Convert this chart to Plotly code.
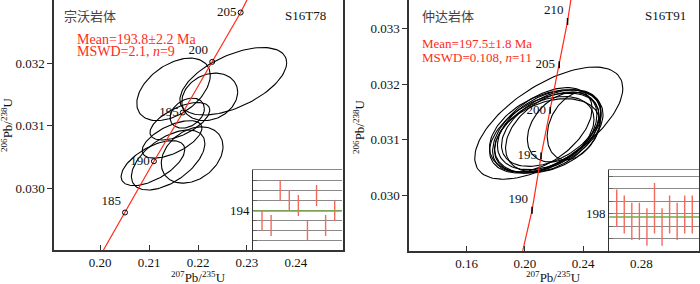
import numpy as np
import plotly.graph_objects as go

# ---------------- data: left panel (S16T78, 宗沃岩体) ----------------
L_ell_x   = [0.2150, 0.2272, 0.2224, 0.2178, 0.2163, 0.2147, 0.2108, 0.2139, 0.2188]
L_ell_sx  = [0.0075, 0.0109, 0.0057, 0.0035, 0.0061, 0.0061, 0.0065, 0.0075, 0.0063]
L_ell_y   = [0.03158, 0.03171, 0.03146, 0.03120, 0.03107, 0.03078, 0.03040, 0.03045, 0.03053]
L_ell_sy  = [0.00050, 0.00054, 0.00038, 0.00024, 0.00030, 0.00030, 0.00036, 0.00048, 0.00045]
L_ell_rho = [0.45, 0.55, 0.2, 0.3, 0.6, 0.6, 0.6, 0.55, 0.3]

L_conc_age = [None, 185, 190, 195, 200, 205, None]
L_conc_x   = [0.2007, 0.2051, 0.2110, 0.2169, 0.2229, 0.2287, 0.2300]
L_conc_y   = [0.02901, 0.02961, 0.03043, 0.03121, 0.03202, 0.03281, 0.03301]

L_ages     = [191.93, 190.9, 197.93, 195.9, 194.9, 189.87, 196.9, 190.9, 193.83]
L_age_err  = [2.07, 2.1, 2.07, 2.1, 2.1, 2.0, 2.1, 2.1, 2.03]
L_mean     = 193.8

# ---------------- data: right panel (S16T91, 仲达岩体) ----------------
R_ell_x   = [0.2164, 0.2147, 0.2133, 0.2167, 0.2133, 0.2181, 0.2154, 0.2188, 0.2120, 0.2256, 0.2338]
R_ell_sx  = [0.0509, 0.0390, 0.0376, 0.0356, 0.0342, 0.0342, 0.0362, 0.0321, 0.0342, 0.0239, 0.0185]
R_ell_y   = [0.03130, 0.03116, 0.03112, 0.03118, 0.03109, 0.03121, 0.03107, 0.03114, 0.03118, 0.03123, 0.03125]
R_ell_sy  = [0.00101, 0.00074, 0.00072, 0.00072, 0.00069, 0.00069, 0.00067, 0.00072, 0.00076, 0.00063, 0.00061]
R_ell_rho = [0.62, 0.4, 0.45, 0.4, 0.4, 0.45, 0.35, 0.4, 0.5, 0.35, 0.3]

R_conc_age = [None, 190, 195, 200, 205, 210, None]
R_conc_x   = [0.1985, 0.2049, 0.2111, 0.2174, 0.2236, 0.2293, 0.2316]
R_conc_y   = [0.02900, 0.02973, 0.03071, 0.03153, 0.03235, 0.03313, 0.03352]

R_ages     = [198.9, 197.9, 196.8, 196.8, 195.9, 198.9, 195.9, 197.9, 196.8, 197.9, 197.9]
R_age_err  = [3.0, 3.05, 3.0, 3.0, 3.0, 4.05, 3.0, 3.05, 3.0, 3.05, 3.05]
R_mean     = 197.5

# ---------------- helpers ----------------
SERIF = "Liberation Serif"
CJK = "Noto Sans CJK SC"
RED = "#ff2a1a"
BAR = "#f36a5c"
GREEN = "#7aa84a"
AX = "#333333"


def ellipse_path(xs, sxs, ys, sys_, rhos, n=120):
    t = np.linspace(0, 2 * np.pi, n)
    X, Y = [], []
    for x, sx, y, sy, r in zip(xs, sxs, ys, sys_, rhos):
        X += list(x + sx * np.cos(t)) + [None]
        Y += list(y + sy * (r * np.cos(t) + np.sqrt(1 - r * r) * np.sin(t))) + [None]
    return X, Y


fig = go.Figure()

for (xs, sxs, ys, sys_, rhos, xa, ya) in [
    (L_ell_x, L_ell_sx, L_ell_y, L_ell_sy, L_ell_rho, "x", "y"),
    (R_ell_x, R_ell_sx, R_ell_y, R_ell_sy, R_ell_rho, "x2", "y2"),
]:
    X, Y = ellipse_path(xs, sxs, ys, sys_, rhos)
    fig.add_trace(go.Scatter(x=X, y=Y, mode="lines", line=dict(color="black", width=1.1),
                             xaxis=xa, yaxis=ya, hoverinfo="skip", showlegend=False))

fig.add_trace(go.Scatter(x=L_conc_x, y=L_conc_y, mode="lines", line=dict(color=RED, width=1.2),
                         xaxis="x", yaxis="y", showlegend=False))
fig.add_trace(go.Scatter(x=R_conc_x, y=R_conc_y, mode="lines", line=dict(color=RED, width=1.2),
                         xaxis="x2", yaxis="y2", showlegend=False))

Lpos = {185: "top left", 190: "middle left", 195: "middle left", 200: "top left", 205: "middle left"}
Rpos = {190: "top left", 195: "middle left", 200: "middle left", 205: "middle left", 210: "top left"}
for ages, xs, ys, xa, ya, sym, pos in [
    (L_conc_age, L_conc_x, L_conc_y, "x", "y", "circle-open", Lpos),
    (R_conc_age, R_conc_x, R_conc_y, "x2", "y2", "line-ns", Rpos),
]:
    mx = [x for a, x in zip(ages, xs) if a is not None]
    my = [y for a, y in zip(ages, ys) if a is not None]
    ma = [a for a in ages if a is not None]
    fig.add_trace(go.Scatter(x=mx, y=my, mode="markers+text", text=[str(a) for a in ma],
                             textposition=[pos[a] for a in ma],
                             textfont=dict(family=SERIF, size=13, color="#111"),
                             marker=dict(symbol=sym, size=5, color="black",
                                         line=dict(color="black", width=1.5 if sym == "line-ns" else 1)),
                             xaxis=xa, yaxis=ya, showlegend=False))

fig.add_trace(go.Scatter(x=list(range(1, len(L_ages) + 1)), y=L_ages, mode="markers",
                         marker=dict(size=0.1, color=BAR),
                         error_y=dict(type="data", array=L_age_err, color=BAR, thickness=1.4, width=0),
                         xaxis="x3", yaxis="y3", showlegend=False))
fig.add_trace(go.Scatter(x=list(range(1, len(R_ages) + 1)), y=R_ages, mode="markers",
                         marker=dict(size=0.1, color=BAR),
                         error_y=dict(type="data", array=R_age_err, color=BAR, thickness=1.4, width=0),
                         xaxis="x4", yaxis="y4", showlegend=False))

H = 284.0
W = 700.0


def dx(px):
    return px / W


def dy(py):
    return 1 - py / H


main_x = dict(showline=True, linecolor=AX, linewidth=1.5, mirror=True, ticks="inside", ticklen=5,
              tickcolor=AX, showgrid=False, zeroline=False, automargin=False,
              tickfont=dict(family=SERIF, size=13, color="#111"), tickformat=".2f")
main_y = dict(showline=True, linecolor=AX, linewidth=1.5, mirror=True, ticks="outside", ticklen=5,
              tickcolor=AX, showgrid=False, zeroline=False, automargin=False,
              tickfont=dict(family=SERIF, size=13, color="#111"), tickformat=".3f")

inset_y = dict(showline=True, linecolor=AX, linewidth=1.2, ticks="inside", ticklen=4, tickcolor="#666",
               showgrid=True, gridcolor="#8a8a8a", gridwidth=1, zeroline=False, automargin=False,
               tickfont=dict(family=SERIF, size=13, color="#111"),
               minor=dict(dtick=2, tick0=0, ticks="inside", ticklen=4, tickcolor="#666",
                          showgrid=True, gridcolor="#8a8a8a", gridwidth=1))
inset_x = dict(showline=True, linecolor="#8a8a8a", linewidth=1, side="top", ticks="",
               showticklabels=False, showgrid=False, zeroline=False, automargin=False)

fig.update_layout(
    width=700, height=284, margin=dict(l=0, r=0, t=0, b=0),
    paper_bgcolor="white", plot_bgcolor="white",
    xaxis=dict(main_x, domain=[dx(54), dx(343)], range=[0.1906, 0.2496],
               tickvals=[0.20, 0.21, 0.22, 0.23, 0.24], anchor="y"),
    yaxis=dict(main_y, domain=[dy(250), 1.0], range=[0.02901, 0.03301],
               tickvals=[0.030, 0.031, 0.032], anchor="x"),
    xaxis2=dict(main_x, domain=[dx(409), dx(699)], range=[0.1203, 0.3197],
                tickvals=[0.16, 0.20, 0.24, 0.28], anchor="y2"),
    yaxis2=dict(main_y, domain=[dy(251), 1.0], range=[0.028997, 0.033517],
                tickvals=[0.030, 0.031, 0.032, 0.033], anchor="x2"),
    xaxis3=dict(inset_x, domain=[dx(253.3), dx(341.7)], range=[0.04, 9.77], anchor="y3"),
    yaxis3=dict(inset_y, domain=[dy(250), dy(170)], range=[186, 202], tickvals=[194], anchor="x3"),
    xaxis4=dict(inset_x, domain=[dx(609.3), dx(699)], range=[0.02, 11.89], anchor="y4"),
    yaxis4=dict(inset_y, domain=[dy(251), dy(170)], range=[192.05, 205.03], tickvals=[198], anchor="x4"),
)

fig.add_shape(type="line", xref="x3 domain", x0=0, x1=1, yref="y3", y0=L_mean, y1=L_mean,
              line=dict(color=GREEN, width=1.6))
fig.add_shape(type="line", xref="x4 domain", x0=0, x1=1, yref="y4", y0=R_mean, y1=R_mean,
              line=dict(color=GREEN, width=1.6))

ann = []


def txt(x, y, s, size=13, color="#111", family=SERIF, xanchor="left", angle=0):
    ann.append(dict(x=dx(x), y=dy(y), xref="paper", yref="paper", text=s, showarrow=False,
                    xanchor=xanchor, yanchor="middle", textangle=angle,
                    font=dict(family=family, size=size, color=color)))


txt(62, 15, "宗沃岩体", size=13, color="#444", family=CJK)
txt(328, 15, "S16T78", xanchor="right")
txt(75, 39, "Mean=193.8±2.2 Ma", size=14, color=RED)
txt(75, 52, "MSWD=2.1, <i>n</i>=9", size=14, color=RED)
txt(420, 15, "仲达岩体", size=13, color="#444", family=CJK)
txt(688, 15, "S16T91", xanchor="right")
txt(420, 43, "Mean=197.5±1.8 Ma", color=RED)
txt(420, 58, "MSWD=0.108, <i>n</i>=11", color=RED)
txt(7, 125, "<sup>206</sup>Pb/<sup>238</sup>U", xanchor="center", angle=-90)
txt(359, 127, "<sup>206</sup>Pb/<sup>238</sup>U", xanchor="center", angle=-90)
txt(198, 277, "<sup>207</sup>Pb/<sup>235</sup>U", xanchor="center")
txt(553, 277, "<sup>207</sup>Pb/<sup>235</sup>U", xanchor="center")
fig.update_layout(annotations=ann)

fig.write_html("out.html", config={"displayModeBar": False},
               post_script="document.body.style.margin='0';document.body.style.overflow='hidden';")
